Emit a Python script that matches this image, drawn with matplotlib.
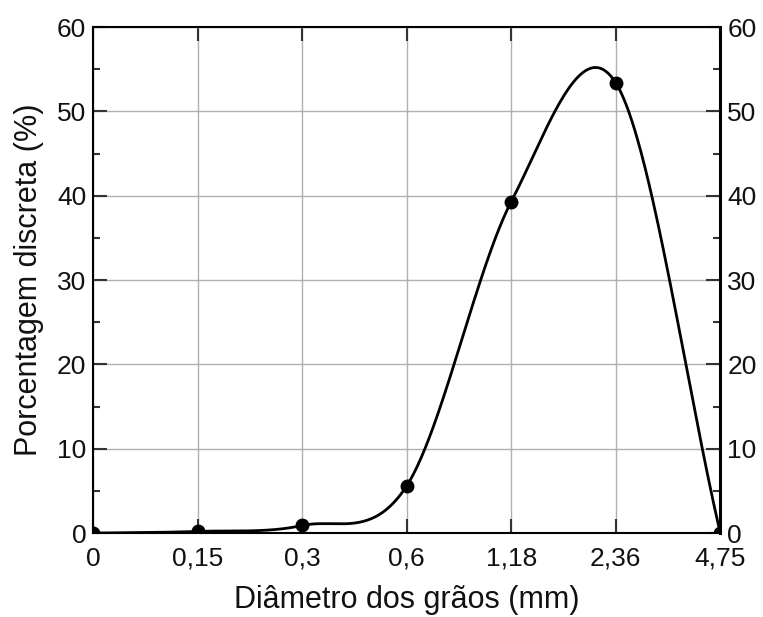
import numpy as np
import matplotlib
matplotlib.use("Agg")
import matplotlib.pyplot as plt
from matplotlib.ticker import MultipleLocator

plt.rcParams['font.family'] = ['Liberation Sans', 'DejaVu Sans']

diameters = ["0", "0,15", "0,3", "0,6", "1,18", "2,36", "4,75"]
percent = [0.0, 0.2, 0.9, 5.6, 39.3, 53.4, 0.0]

x = np.arange(len(percent), dtype=float)
y = np.array(percent)

# Catmull-Rom style smooth curve through the points
m = np.zeros_like(y)
m[1:-1] = (y[2:] - y[:-2]) / 2.0
m[0] = (y[1] - y[0])
m[-1] = (y[-1] - y[-2])
xs, ys = [], []
for i in range(len(y) - 1):
    t = np.linspace(0, 1, 80)
    h00 = 2*t**3 - 3*t**2 + 1
    h10 = t**3 - 2*t**2 + t
    h01 = -2*t**3 + 3*t**2
    h11 = t**3 - t**2
    xs.append(x[i] + t)
    ys.append(h00*y[i] + h10*m[i] + h01*y[i+1] + h11*m[i+1])
xs = np.concatenate(xs)
ys = np.concatenate(ys)

fig = plt.figure(figsize=(7.63, 6.17), dpi=100)
ax = fig.add_axes([0.122, 0.136, 0.822, 0.820])
ax.plot(xs, ys, color='black', lw=2.0, zorder=3)
ax.plot(x, y, 'o', color='black', ms=9, zorder=4)

ax.set_xlim(0, 6)
ax.set_ylim(0, 60)
ax.set_xticks(x)
ax.set_xticklabels(diameters)
ax.yaxis.set_major_locator(MultipleLocator(10))
ax.yaxis.set_minor_locator(MultipleLocator(5))
ax.grid(True, which='major', color='#b0b0b0', lw=1.0)
ax.set_axisbelow(True)
ax.tick_params(which='both', direction='in', top=True, right=True,
               labelright=True, labelsize=19, width=1.5, color='#333333',
               labelcolor='#111111')
ax.tick_params(which='major', length=10)
ax.tick_params(which='minor', length=5)
ax.tick_params(axis='x', pad=10)
ax.tick_params(axis='y', pad=5)
for s in ax.spines.values():
    s.set_linewidth(1.5)
ax.spines['right'].set_linewidth(2.2)

ax.set_xlabel("Diâmetro dos grãos (mm)", fontsize=22, labelpad=10, color='#111111')
ax.set_ylabel("Porcentagem discreta (%)", fontsize=22, labelpad=9, color='#111111')

fig.savefig("out.png", dpi=100)
